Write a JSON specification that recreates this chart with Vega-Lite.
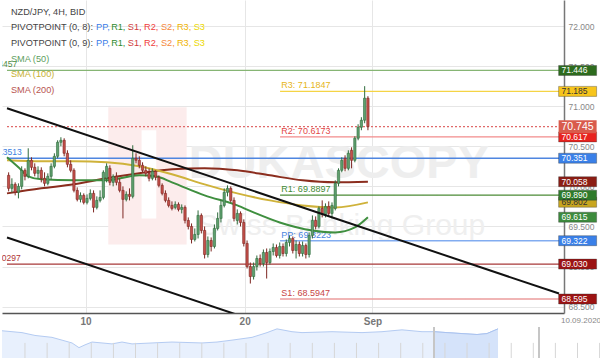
{
  "$schema": "https://vega.github.io/schema/vega-lite/v6.json",
  "padding": 0,
  "background": "white",
  "spacing": 0,
  "config": {"view": {"stroke": null}, "font": "Liberation Sans"},
  "datasets": {
    "candles": [
      {"i":0,"o":70.1375,"h":70.175,"l":69.9375,"c":69.975},
      {"i":1,"o":69.975,"h":70.1,"l":69.925,"c":70.025},
      {"i":2,"o":70.025,"h":70.05,"l":69.8875,"c":69.925},
      {"i":3,"o":69.925,"h":70.0375,"l":69.85,"c":70.0},
      {"i":4,"o":70.0,"h":70.25,"l":69.9625,"c":70.2},
      {"i":5,"o":70.2,"h":70.225,"l":70.075,"c":70.125},
      {"i":6,"o":70.125,"h":70.475,"l":70.1,"c":70.325},
      {"i":7,"o":70.325,"h":70.3625,"l":70.2,"c":70.2375},
      {"i":8,"o":70.2375,"h":70.2875,"l":70.125,"c":70.1625},
      {"i":9,"o":70.1625,"h":70.25,"l":70.1,"c":70.2},
      {"i":10,"o":70.2,"h":70.2375,"l":70.05,"c":70.1},
      {"i":11,"o":70.1,"h":70.175,"l":70.0,"c":70.0375},
      {"i":12,"o":70.0375,"h":70.1625,"l":70.0125,"c":70.125},
      {"i":13,"o":70.125,"h":70.2875,"l":70.0875,"c":70.25},
      {"i":14,"o":70.25,"h":70.4125,"l":70.225,"c":70.375},
      {"i":15,"o":70.375,"h":70.575,"l":70.35,"c":70.55},
      {"i":16,"o":70.55,"h":70.6125,"l":70.5,"c":70.575},
      {"i":17,"o":70.575,"h":70.6,"l":70.375,"c":70.4125},
      {"i":18,"o":70.4125,"h":70.45,"l":70.2375,"c":70.275},
      {"i":19,"o":70.275,"h":70.325,"l":70.175,"c":70.2},
      {"i":20,"o":70.2,"h":70.225,"l":69.925,"c":69.95},
      {"i":21,"o":69.95,"h":69.9875,"l":69.8125,"c":69.8375},
      {"i":22,"o":69.8375,"h":69.925,"l":69.8,"c":69.8875},
      {"i":23,"o":69.8875,"h":69.9125,"l":69.775,"c":69.8},
      {"i":24,"o":69.8,"h":69.9,"l":69.775,"c":69.85},
      {"i":25,"o":69.85,"h":69.9625,"l":69.825,"c":69.9125},
      {"i":26,"o":69.9125,"h":69.95,"l":69.675,"c":69.7375},
      {"i":27,"o":69.7375,"h":69.875,"l":69.7125,"c":69.825},
      {"i":28,"o":69.825,"h":69.95,"l":69.8,"c":69.8625},
      {"i":29,"o":69.8625,"h":70.2,"l":69.8375,"c":70.175},
      {"i":30,"o":70.1,"h":70.2875,"l":70.05,"c":70.25},
      {"i":31,"o":70.225,"h":70.2625,"l":70.0125,"c":70.05},
      {"i":32,"o":70.05,"h":70.15,"l":70.0,"c":70.125},
      {"i":33,"o":70.125,"h":70.175,"l":70.0125,"c":70.05},
      {"i":34,"o":70.05,"h":70.1,"l":69.925,"c":69.95},
      {"i":35,"o":69.95,"h":70.0,"l":69.6,"c":69.8375},
      {"i":36,"o":69.8375,"h":69.9375,"l":69.8125,"c":69.9},
      {"i":37,"o":69.9,"h":69.975,"l":69.825,"c":69.875},
      {"i":38,"o":69.875,"h":70.5125,"l":69.85,"c":70.35},
      {"i":39,"o":70.35,"h":70.4125,"l":70.2875,"c":70.325},
      {"i":40,"o":70.325,"h":70.375,"l":70.225,"c":70.2625},
      {"i":41,"o":70.2625,"h":70.3,"l":70.175,"c":70.2},
      {"i":42,"o":70.2,"h":70.25,"l":70.125,"c":70.1625},
      {"i":43,"o":70.1625,"h":70.225,"l":70.0625,"c":70.1},
      {"i":44,"o":70.1,"h":70.225,"l":70.075,"c":70.1875},
      {"i":45,"o":70.1875,"h":70.2,"l":70.075,"c":70.1125},
      {"i":46,"o":70.1125,"h":70.1375,"l":69.9875,"c":70.0125},
      {"i":47,"o":70.0125,"h":70.0375,"l":69.8875,"c":69.9125},
      {"i":48,"o":69.9125,"h":69.95,"l":69.8,"c":69.825},
      {"i":49,"o":69.825,"h":69.8625,"l":69.7375,"c":69.7625},
      {"i":50,"o":69.7625,"h":69.8125,"l":69.7,"c":69.725},
      {"i":51,"o":69.7375,"h":69.8125,"l":69.7125,"c":69.775},
      {"i":52,"o":69.775,"h":69.8,"l":69.6875,"c":69.7125},
      {"i":53,"o":69.7125,"h":69.775,"l":69.6625,"c":69.7375},
      {"i":54,"o":69.7375,"h":69.7625,"l":69.5375,"c":69.575},
      {"i":55,"o":69.575,"h":69.6125,"l":69.4625,"c":69.5},
      {"i":56,"o":69.5,"h":69.5375,"l":69.2875,"c":69.3375},
      {"i":57,"o":69.3375,"h":69.475,"l":69.3125,"c":69.4},
      {"i":58,"o":69.4,"h":69.7,"l":69.35,"c":69.6375},
      {"i":59,"o":69.6375,"h":69.6625,"l":69.4125,"c":69.45},
      {"i":60,"o":69.45,"h":69.5,"l":69.1,"c":69.15},
      {"i":61,"o":69.15,"h":69.375,"l":69.1125,"c":69.325},
      {"i":62,"o":69.325,"h":69.3625,"l":69.1875,"c":69.25},
      {"i":63,"o":69.25,"h":69.525,"l":69.225,"c":69.475},
      {"i":64,"o":69.475,"h":69.675,"l":69.45,"c":69.6},
      {"i":65,"o":69.6,"h":69.825,"l":69.55,"c":69.7625},
      {"i":66,"o":69.7625,"h":69.975,"l":69.7375,"c":69.925},
      {"i":67,"o":69.925,"h":70.0125,"l":69.875,"c":69.975},
      {"i":68,"o":69.975,"h":70.0,"l":69.8,"c":69.825},
      {"i":69,"o":69.825,"h":69.8625,"l":69.5625,"c":69.6},
      {"i":70,"o":69.575,"h":69.7125,"l":69.525,"c":69.6625},
      {"i":71,"o":69.6625,"h":69.6875,"l":69.5,"c":69.55},
      {"i":72,"o":69.55,"h":69.5875,"l":69.25,"c":69.2875},
      {"i":73,"o":69.2875,"h":69.325,"l":68.975,"c":69.0},
      {"i":74,"o":69.0,"h":69.05,"l":68.7875,"c":68.875},
      {"i":75,"o":68.875,"h":69.05,"l":68.8375,"c":69.0},
      {"i":76,"o":69.0,"h":69.1375,"l":68.95,"c":69.1},
      {"i":77,"o":69.1,"h":69.15,"l":69.0,"c":69.0375},
      {"i":78,"o":69.0375,"h":69.2125,"l":69.0,"c":69.175},
      {"i":79,"o":69.175,"h":69.225,"l":68.85,"c":69.05},
      {"i":80,"o":69.05,"h":69.225,"l":69.025,"c":69.1875},
      {"i":81,"o":69.1875,"h":69.2875,"l":69.1375,"c":69.2375},
      {"i":82,"o":69.2375,"h":69.275,"l":69.1125,"c":69.1375},
      {"i":83,"o":69.1375,"h":69.3,"l":69.1,"c":69.25},
      {"i":84,"o":69.25,"h":69.2875,"l":69.125,"c":69.1625},
      {"i":85,"o":69.1625,"h":69.3375,"l":69.125,"c":69.3},
      {"i":86,"o":69.3,"h":69.3875,"l":69.25,"c":69.35},
      {"i":87,"o":69.35,"h":69.375,"l":69.1625,"c":69.2},
      {"i":88,"o":69.2,"h":69.325,"l":69.1,"c":69.275},
      {"i":89,"o":69.275,"h":69.3125,"l":69.125,"c":69.1625},
      {"i":90,"o":69.1625,"h":69.3125,"l":69.125,"c":69.2625},
      {"i":91,"o":69.2625,"h":69.2875,"l":69.1,"c":69.15},
      {"i":92,"o":69.15,"h":69.425,"l":69.1125,"c":69.3875},
      {"i":93,"o":69.3875,"h":69.6375,"l":69.35,"c":69.575},
      {"i":94,"o":69.575,"h":69.625,"l":69.4625,"c":69.5},
      {"i":95,"o":69.5,"h":69.75,"l":69.475,"c":69.725},
      {"i":96,"o":69.725,"h":69.825,"l":69.6125,"c":69.65},
      {"i":97,"o":69.65,"h":69.7875,"l":69.6125,"c":69.75},
      {"i":98,"o":69.75,"h":69.8125,"l":69.625,"c":69.6625},
      {"i":99,"o":69.6625,"h":69.8,"l":69.6,"c":69.7625},
      {"i":100,"o":69.725,"h":70.075,"l":69.7,"c":70.0375},
      {"i":101,"o":70.0375,"h":70.225,"l":70.0,"c":70.2},
      {"i":102,"o":70.2,"h":70.3625,"l":70.175,"c":70.325},
      {"i":103,"o":70.35,"h":70.3875,"l":70.1875,"c":70.225},
      {"i":104,"o":70.225,"h":70.45,"l":70.2,"c":70.4125},
      {"i":105,"o":70.45,"h":70.4875,"l":70.225,"c":70.325},
      {"i":106,"o":70.325,"h":70.625,"l":70.3,"c":70.6},
      {"i":107,"o":70.6,"h":70.775,"l":70.575,"c":70.7375},
      {"i":108,"o":70.7375,"h":70.8625,"l":70.7,"c":70.825},
      {"i":109,"o":70.825,"h":71.25,"l":70.7875,"c":71.1},
      {"i":110,"o":71.1,"h":71.125,"l":70.7,"c":70.745}
    ],
    "sma": [
      {"s":"200","i":-0.5,"p":69.9125},{"s":"200","i":10,"p":69.975},{"s":"200","i":20,"p":70.025},{"s":"200","i":30,"p":70.1},{"s":"200","i":40,"p":70.1625},{"s":"200","i":50,"p":70.2125},{"s":"200","i":60,"p":70.225},{"s":"200","i":70,"p":70.2},{"s":"200","i":80,"p":70.1375},{"s":"200","i":90,"p":70.075},{"s":"200","i":100,"p":70.05},{"s":"200","i":110,"p":70.058},
      {"s":"100","i":-0.5,"p":70.325},{"s":"100","i":10,"p":70.3125},{"s":"100","i":20,"p":70.3125},{"s":"100","i":30,"p":70.3},{"s":"100","i":40,"p":70.25},{"s":"100","i":50,"p":70.15},{"s":"100","i":60,"p":70.025},{"s":"100","i":70,"p":69.9125},{"s":"100","i":80,"p":69.825},{"s":"100","i":90,"p":69.7625},{"s":"100","i":100,"p":69.7375},{"s":"100","i":110,"p":69.8},
      {"s":"50","i":-0.5,"p":70.3625},{"s":"50","i":3,"p":70.2375},{"s":"50","i":6,"p":70.125},{"s":"50","i":10,"p":70.0875},{"s":"50","i":20,"p":70.075},{"s":"50","i":30,"p":70.075},{"s":"50","i":40,"p":70.1375},{"s":"50","i":45,"p":70.125},{"s":"50","i":50,"p":70.05},{"s":"50","i":60,"p":69.8875},{"s":"50","i":70,"p":69.7625},{"s":"50","i":75,"p":69.675},{"s":"50","i":83,"p":69.55},{"s":"50","i":93,"p":69.45},{"s":"50","i":100,"p":69.425},{"s":"50","i":106,"p":69.4875},{"s":"50","i":110,"p":69.615}
    ],
    "lv": [
      {"t":"L1","p":71.446,"a":-0.5,"b":168.5},
      {"t":"R3","p":71.185,"a":83.1,"b":168.5},
      {"t":"CUR","p":70.745,"a":-0.5,"b":168.5},
      {"t":"R2","p":70.617,"a":83.1,"b":168.5},
      {"t":"L2","p":70.351,"a":-0.5,"b":168.5},
      {"t":"R1","p":69.89,"a":83.1,"b":168.5},
      {"t":"PP","p":69.322,"a":83.1,"b":168.5},
      {"t":"L3","p":69.03,"a":-0.5,"b":168.5},
      {"t":"S1","p":68.595,"a":83.1,"b":168.5}
    ],
    "lvlab": [
      {"t":"R3","p":71.185,"i":83.5,"s":"R3: 71.1847"},
      {"t":"R2","p":70.617,"i":83.5,"s":"R2: 70.6173"},
      {"t":"R1","p":69.89,"i":83.5,"s":"R1: 69.8897"},
      {"t":"PP","p":69.322,"i":83.5,"s":"PP: 69.3223"},
      {"t":"S1","p":68.595,"i":83.5,"s":"S1: 68.5947"}
    ],
    "cut": [
      {"t":"L1","p":71.446,"i":2.6,"s":"71.4457"},
      {"t":"L2","p":70.351,"i":4.0,"s":"70.3513"},
      {"t":"L3","p":69.03,"i":3.7,"s":"69.0297"}
    ],
    "tags": [
      {"t":"L1","p":71.446},
      {"t":"R3","p":71.185},
      {"t":"R2","p":70.617},
      {"t":"L2","p":70.351},
      {"t":"SMA200","p":70.058},
      {"t":"SMA100","p":69.802},
      {"t":"R1","p":69.89},
      {"t":"SMA50","p":69.615},
      {"t":"PP","p":69.322},
      {"t":"L3","p":69.03},
      {"t":"S1","p":68.595}
    ],
    "leg": [
      {"t":"base","i":0.7,"p":72.171,"s":"NZD/JPY, 4H, BID"},
      {"t":"base","i":0.7,"p":71.984,"s":"PIVOTPOINT (0, 8):"},
      {"t":"PP","i":26.77,"p":71.984,"s":"PP,"},
      {"t":"R1","i":31.38,"p":71.984,"s":"R1,"},
      {"t":"S1","i":36.49,"p":71.984,"s":"S1,"},
      {"t":"R2","i":41.45,"p":71.984,"s":"R2,"},
      {"t":"S2","i":46.62,"p":71.984,"s":"S2,"},
      {"t":"R3","i":51.52,"p":71.984,"s":"R3,"},
      {"t":"S3","i":56.64,"p":71.984,"s":"S3"},
      {"t":"base","i":0.7,"p":71.791,"s":"PIVOTPOINT (0, 9):"},
      {"t":"PP","i":26.77,"p":71.791,"s":"PP,"},
      {"t":"R1","i":31.38,"p":71.791,"s":"R1,"},
      {"t":"S1","i":36.49,"p":71.791,"s":"S1,"},
      {"t":"R2","i":41.45,"p":71.791,"s":"R2,"},
      {"t":"S2","i":46.62,"p":71.791,"s":"S2,"},
      {"t":"R3","i":51.52,"p":71.791,"s":"R3,"},
      {"t":"S3","i":56.64,"p":71.791,"s":"S3"},
      {"t":"SMA50","i":0.7,"p":71.595,"s":"SMA (50)"},
      {"t":"SMA100","i":0.7,"p":71.4,"s":"SMA (100)"},
      {"t":"SMA200","i":0.7,"p":71.206,"s":"SMA (200)"}
    ],
    "trend": [
      {"s":"u","i":-0.5,"p":70.975},{"s":"u","i":168.5,"p":68.6625},
      {"s":"l","i":-0.5,"p":69.3625},{"s":"l","i":168.5,"p":67.05}
    ],
    "nav": [
      {"t":0,"v":71.03},{"t":3.33,"v":70.55},{"t":5.5,"v":69.82},{"t":8.33,"v":69.33},{"t":10,"v":68.61},{"t":11.67,"v":67.88},{"t":12.83,"v":66.67},{"t":13.83,"v":67.39},{"t":15,"v":68.12},{"t":16.67,"v":67.88},{"t":18.33,"v":67.64},{"t":20,"v":68.12},{"t":21.67,"v":67.64},{"t":25,"v":67.88},{"t":28.33,"v":68.12},{"t":33.33,"v":67.88},{"t":35.83,"v":68.12},{"t":38.33,"v":68.61},{"t":41.67,"v":69.33},{"t":44.17,"v":70.55},{"t":45.83,"v":71.52},{"t":48.33,"v":70.79},{"t":50,"v":70.55},{"t":55,"v":70.79},{"t":60,"v":70.55},{"t":63.33,"v":70.79},{"t":66.67,"v":71.27},{"t":70,"v":70.79},{"t":72,"v":70.79},{"t":74.17,"v":70.55},{"t":76.67,"v":70.3},{"t":79.17,"v":70.06},{"t":80.83,"v":70.3},{"t":82.67,"v":71.52}
    ],
    "navt": [
      {"t":3.83},{"t":7.52},{"t":11.2},{"t":14.88},{"t":18.57},{"t":22.25},{"t":25.93},{"t":29.62},{"t":33.3},{"t":36.98},{"t":40.67},{"t":44.35},{"t":48.03},{"t":51.72},{"t":55.4},{"t":59.08},{"t":62.77},{"t":66.45},{"t":70.13},{"t":73.82},{"t":77.5},{"t":81.18},{"t":84.87},{"t":88.55},{"t":92.23},{"t":95.92},{"t":99.6}
    ]
  },
  "vconcat": [
    {
      "width": 562,
      "height": 313,
      "resolve": {"scale": {"color": "independent", "fill": "independent", "stroke": "independent", "strokeWidth": "independent", "strokeDash": "independent"}},
      "layer": [
        {
          "data": {"values": [{"k":"bg","i":30.5,"i2":54.5,"p":70.9875,"p2":69.275},{"k":"hole","i":40.7,"i2":45.2,"p":70.7,"p2":69.6}]},
          "mark": {"type": "rect", "opacity": 1},
          "encoding": {
            "x": {"field": "i", "type": "quantitative", "scale": {"domain": [-0.5, 168.5], "nice": false, "zero": false},
              "axis": {"values": [23.56, 72.27, 111.37], "labelExpr": "datum.value < 40 ? '10' : (datum.value < 90 ? '20' : 'Sep')", "grid": true, "gridColor": "#e6e6e6", "domainColor": "#555555", "domainWidth": 1.5, "ticks": false, "labelColor": "#777777", "labelFontWeight": "bold", "labelFontSize": 10, "labelPadding": 3, "labelFont": "Liberation Sans", "title": null}},
            "x2": {"field": "i2"},
            "y": {"field": "p", "type": "quantitative", "scale": {"domain": [68.42, 72.325], "nice": false, "zero": false},
              "axis": {"orient": "right", "values": [68.5, 69, 69.5, 70, 70.5, 71, 71.5, 72], "format": ".3f", "grid": true, "gridColor": "#e6e6e6", "domainColor": "#777777", "domainWidth": 1.5, "ticks": false, "labelColor": "#888888", "labelFontSize": 8.5, "labelPadding": 4, "labelFont": "Liberation Sans", "title": null}},
            "y2": {"field": "p2"},
            "color": {"condition": {"test": "datum.k == 'hole'", "value": "#ffffff"}, "value": "#fcecec"}
          }
        },
        {
          "data": {"values": [{"s":"DUKASCOPY","i":101.1,"p":70.1}]},
          "mark": {"type": "text", "fontWeight": "bold", "fontSize": 47, "align": "center", "baseline": "alphabetic", "color": "#eeeeee"},
          "encoding": {"x": {"field": "i", "type": "quantitative"}, "y": {"field": "p", "type": "quantitative"}, "text": {"field": "s"}}
        },
        {
          "data": {"values": [{"s":"Swiss Banking Group","i":102,"p":69.3875}]},
          "mark": {"type": "text", "fontSize": 30, "align": "center", "baseline": "alphabetic", "color": "#efefef"},
          "encoding": {"x": {"field": "i", "type": "quantitative"}, "y": {"field": "p", "type": "quantitative"}, "text": {"field": "s"}}
        },
        {
          "data": {"name": "lv"},
          "mark": {"type": "rule", "opacity": 1},
          "encoding": {
            "x": {"field": "a", "type": "quantitative"},
            "x2": {"field": "b"},
            "y": {"field": "p", "type": "quantitative"},
            "color": {"field": "t", "type": "nominal", "legend": null, "scale": {"domain": ["L1","R3","CUR","R2","L2","R1","PP","L3","S1"], "range": ["#86b574","#f5d445","#e06a6a","#f28b8b","#4f86e0","#4a8a35","#82acf0","#a83a3a","#eb9c9c"]}},
            "strokeWidth": {"field": "t", "type": "nominal", "legend": null, "scale": {"domain": ["L1","R3","CUR","R2","L2","R1","PP","L3","S1"], "range": [1.2,1.5,1,2,1.2,1.2,1.5,1.2,2]}},
            "strokeDash": {"field": "t", "type": "nominal", "legend": null, "scale": {"domain": ["L1","R3","CUR","R2","L2","R1","PP","L3","S1"], "range": [[1,0],[1,0],[2,2],[1,0],[1,0],[1,0],[1,0],[1,0],[1,0]]}}
          }
        },
        {
          "data": {"name": "lvlab"},
          "mark": {"type": "text", "align": "left", "baseline": "bottom", "dy": -1, "fontSize": 9},
          "encoding": {
            "x": {"field": "i", "type": "quantitative"},
            "y": {"field": "p", "type": "quantitative"},
            "text": {"field": "s"},
            "color": {"field": "t", "type": "nominal", "legend": null, "scale": {"domain": ["R3","R2","R1","PP","S1"], "range": ["#e6b520","#e34848","#3f8a33","#4a85e0","#c74444"]}}
          }
        },
        {
          "data": {"name": "cut"},
          "mark": {"type": "text", "align": "right", "baseline": "bottom", "dy": -1, "fontSize": 8.5, "clip": true},
          "encoding": {
            "x": {"field": "i", "type": "quantitative"},
            "y": {"field": "p", "type": "quantitative"},
            "text": {"field": "s"},
            "color": {"field": "t", "type": "nominal", "legend": null, "scale": {"domain": ["L1","L2","L3"], "range": ["#4f8a3f","#3a7fe0","#b03535"]}}
          }
        },
        {
          "data": {"name": "sma"},
          "mark": {"type": "line", "interpolate": "monotone", "strokeWidth": 2, "clip": true},
          "encoding": {
            "x": {"field": "i", "type": "quantitative"},
            "y": {"field": "p", "type": "quantitative"},
            "color": {"field": "s", "type": "nominal", "legend": null, "scale": {"domain": ["50","100","200"], "range": ["#3f8f3f","#cfb23a","#8b2d1e"]}}
          }
        },
        {
          "data": {"name": "candles"},
          "mark": {"type": "rule", "strokeWidth": 1, "opacity": 1},
          "encoding": {
            "x": {"field": "i", "type": "quantitative"},
            "y": {"field": "l", "type": "quantitative"},
            "y2": {"field": "h"},
            "color": {"condition": {"test": "datum.c >= datum.o", "value": "#2f6b3c"}, "value": "#7e2722"}
          }
        },
        {
          "data": {"name": "candles"},
          "mark": {"type": "bar", "size": 2.3, "strokeWidth": 0.6, "opacity": 1},
          "encoding": {
            "x": {"field": "i", "type": "quantitative"},
            "y": {"field": "o", "type": "quantitative"},
            "y2": {"field": "c"},
            "fill": {"condition": {"test": "datum.c >= datum.o", "value": "#5f9f6e"}, "value": "#c4504a"},
            "stroke": {"condition": {"test": "datum.c >= datum.o", "value": "#2f6b3c"}, "value": "#7e2722"}
          }
        },
        {
          "data": {"name": "trend"},
          "mark": {"type": "line", "color": "#111111", "strokeWidth": 2, "clip": true},
          "encoding": {
            "x": {"field": "i", "type": "quantitative"},
            "y": {"field": "p", "type": "quantitative"},
            "detail": {"field": "s"}
          }
        },
        {
          "data": {"name": "tags"},
          "mark": {"type": "tick", "orient": "horizontal", "size": 38, "thickness": 10, "opacity": 1, "stroke": "#333333", "strokeWidth": 0.6, "strokeOpacity": 0.6},
          "encoding": {
            "x": {"datum": 174.2, "type": "quantitative"},
            "y": {"field": "p", "type": "quantitative"},
            "fill": {"field": "t", "type": "nominal", "legend": null, "scale": {"domain": ["L1","R3","R2","L2","SMA200","SMA100","R1","SMA50","PP","L3","S1"], "range": ["#2d6b1e","#f7c51c","#e8231f","#3a80e8","#8b1d14","#c9a61f","#2f7b2b","#3d8b3d","#3a80e8","#9c1313","#9c1313"]}}
          }
        },
        {
          "data": {"name": "tags"},
          "mark": {"type": "text", "align": "left", "baseline": "middle", "dx": 2.5, "fontSize": 8.5},
          "encoding": {
            "x": {"datum": 168.5, "type": "quantitative"},
            "y": {"field": "p", "type": "quantitative"},
            "text": {"field": "p", "format": ".3f"},
            "color": {"field": "t", "type": "nominal", "legend": null, "scale": {"domain": ["L1","R3","R2","L2","SMA200","SMA100","R1","SMA50","PP","L3","S1"], "range": ["#ffffff","#333333","#ffffff","#ffffff","#ffffff","#333333","#ffffff","#ffffff","#ffffff","#ffffff","#ffffff"]}}
          }
        },
        {
          "data": {"values": [{"p": 70.745}]},
          "mark": {"type": "tick", "orient": "horizontal", "size": 38, "thickness": 13, "opacity": 1, "color": "#d95b4c"},
          "encoding": {
            "x": {"datum": 174.2, "type": "quantitative"},
            "y": {"field": "p", "type": "quantitative"}
          }
        },
        {
          "data": {"values": [{"p": 70.745}]},
          "mark": {"type": "text", "align": "left", "baseline": "middle", "dx": 2.5, "fontSize": 10.5, "color": "#ffffff"},
          "encoding": {
            "x": {"datum": 168.5, "type": "quantitative"},
            "y": {"field": "p", "type": "quantitative"},
            "text": {"field": "p", "format": ".3f"}
          }
        },
        {
          "data": {"name": "leg"},
          "mark": {"type": "text", "align": "left", "baseline": "middle", "fontSize": 9.2},
          "encoding": {
            "x": {"field": "i", "type": "quantitative"},
            "y": {"field": "p", "type": "quantitative"},
            "text": {"field": "s"},
            "color": {"field": "t", "type": "nominal", "legend": null, "scale": {"domain": ["base","PP","R1","S1","R2","S2","R3","S3","SMA50","SMA100","SMA200"], "range": ["#444444","#3b7de8","#2e8b2e","#d03a3a","#f03c3c","#f5883a","#f0b400","#ecd800","#5e9e5e","#c8b030","#b85450"]}}
          }
        },
        {
          "data": {"values": [{"s": "10.09.2020"}]},
          "mark": {"type": "text", "align": "left", "baseline": "middle", "dx": 2, "dy": 8, "fontSize": 8, "color": "#888888"},
          "encoding": {
            "x": {"datum": 168.5, "type": "quantitative"},
            "y": {"datum": 68.42, "type": "quantitative"},
            "text": {"field": "s"}
          }
        }
      ]
    },
    {
      "width": 600,
      "height": 31,
      "layer": [
        {
          "data": {"name": "nav"},
          "mark": {"type": "area", "color": "#e8f0fd", "opacity": 1, "line": {"color": "#b4cbf2", "strokeWidth": 1}},
          "encoding": {
            "x": {"field": "t", "type": "quantitative", "axis": null, "scale": {"domain": [0, 100], "nice": false, "zero": false}},
            "y": {"field": "v", "type": "quantitative", "axis": null, "scale": {"domain": [64, 72], "nice": false, "zero": false}},
            "y2": {"datum": 64}
          }
        },
        {
          "data": {"name": "nav"},
          "transform": [{"filter": "datum.t >= 72"}],
          "mark": {"type": "area", "color": "#d5e3fa", "opacity": 1, "line": {"color": "#a9c2ef", "strokeWidth": 1}},
          "encoding": {
            "x": {"field": "t", "type": "quantitative", "axis": null},
            "y": {"field": "v", "type": "quantitative", "axis": null},
            "y2": {"datum": 64}
          }
        },
        {
          "data": {"name": "navt"},
          "mark": {"type": "rule", "color": "#d6d6d6", "strokeWidth": 1},
          "encoding": {
            "x": {"field": "t", "type": "quantitative", "axis": null},
            "y": {"datum": 64, "type": "quantitative", "axis": null},
            "y2": {"datum": 67.9}
          }
        },
        {
          "data": {"values": [{"t": 72}, {"t": 89.5}]},
          "mark": {"type": "rule", "color": "#c6c6c6", "strokeWidth": 2},
          "encoding": {
            "x": {"field": "t", "type": "quantitative", "axis": null},
            "y": {"datum": 64, "type": "quantitative", "axis": null},
            "y2": {"datum": 72}
          }
        }
      ]
    }
  ]
}
